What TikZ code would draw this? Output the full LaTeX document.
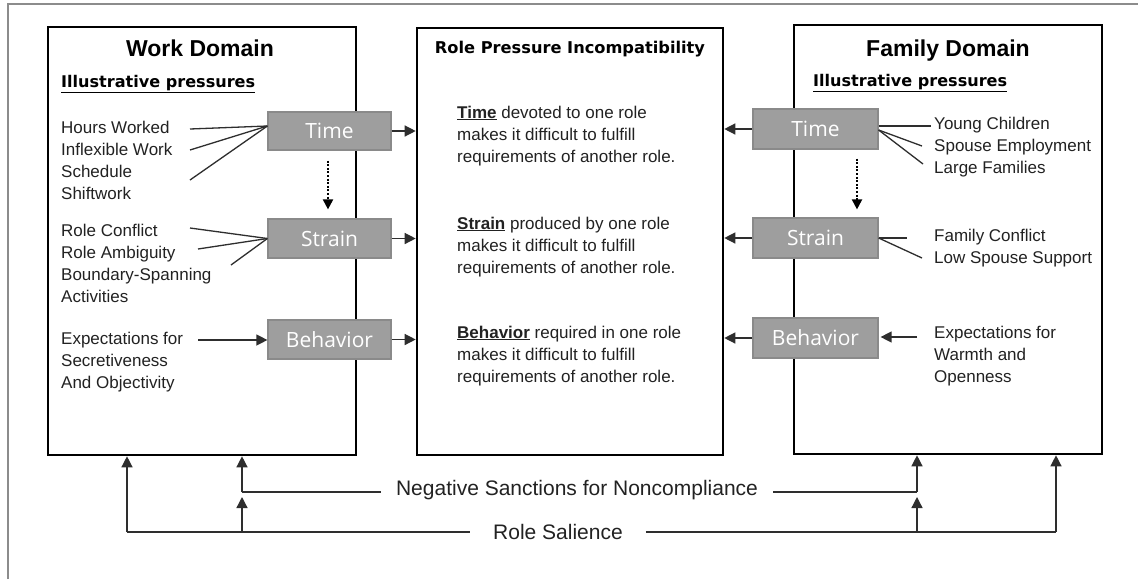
\documentclass[tikz,border=0pt]{standalone}
\usepackage{fontspec}
\setmainfont{Liberation Sans}
\newfontfamily\grayfont{Open Sans}
\newfontfamily\headfont{DejaVu Sans}
\usetikzlibrary{arrows.meta}
\definecolor{txt}{HTML}{222222}
\definecolor{boxgray}{HTML}{9E9E9E}
\definecolor{boxedge}{HTML}{8A8A8A}
\definecolor{lin}{HTML}{2E2E2E}
\definecolor{framec}{HTML}{8C8C8C}
\newcommand{\mystack}[1]{\begin{tabular}[t]{@{}l@{}}#1\end{tabular}}
\begin{document}
\begin{tikzpicture}[x=1pt,y=-1pt,
  domain/.style={draw=black,line width=2.6pt,minimum width=#1,inner sep=0pt},
  gbox/.style={fill=boxgray,draw=boxedge,line width=1.2pt,text=white,
    font=\grayfont\fontsize{21}{24}\selectfont,minimum width=123pt,minimum height=39pt,inner sep=0pt},
  lst/.style={anchor=base west,inner sep=0pt,text=txt,font=\fontsize{17}{22}\selectfont},
  conn/.style={draw=lin,line width=1.3pt},
  arr/.style={conn,-{Triangle[length=11pt,width=11pt]}},
  dotarr/.style={draw=black,line width=2pt,dash pattern=on 2pt off 1.6pt,-{Triangle[length=10pt,width=10pt]}},
  head/.style={inner sep=0pt,anchor=base,font=\bfseries\fontsize{23}{26}\selectfont,text=black},
  bot/.style={inner sep=0pt,anchor=base,font=\fontsize{21}{24}\selectfont,text=txt},
]
\useasboundingbox (0,0) rectangle (1138,579);
\fill[white] (0,0) rectangle (1138,579);
\draw[framec,line width=1.4pt] (8,579) -- (8,4) -- (1138,4);

% domain boxes
\node[domain=308pt,minimum height=428pt] (wbox) at (202,241) {};
\node[domain=306pt,minimum height=427pt] (cbox) at (570,241.5) {};
\node[domain=308pt,minimum height=429pt] (fbox) at (948,239.5) {};

% headings
\node[head] (wtitle) at (200,56) {Work Domain};
\node[head] (ftitle) at (948,56) {Family Domain};
\node[inner sep=0pt,anchor=base west,text=black] (wip) at (61,87)
  {\resizebox{194pt}{!}{\headfont\bfseries\underline{Illustrative pressures}}};
\node[inner sep=0pt,anchor=base west,text=black] (fip) at (813,86)
  {\resizebox{194pt}{!}{\headfont\bfseries\underline{Illustrative pressures}}};
\node[inner sep=0pt,anchor=base,text=black] (ctitle) at (570,53)
  {\resizebox{270pt}{!}{\headfont\bfseries Role Pressure Incompatibility}};

% gray boxes
\node[gbox,minimum height=38pt] (wtime) at (329.5,131) {Time};
\node[gbox] (wstrain) at (329.5,238.5) {Strain};
\node[gbox] (wbeh) at (329.5,339.5) {Behavior};
\node[gbox,minimum width=125pt,minimum height=40pt] (ftime) at (815.5,129) {Time};
\node[gbox,minimum width=125pt,minimum height=40pt] (fstrain) at (815.5,238) {Strain};
\node[gbox,minimum width=125pt,minimum height=40pt] (fbeh) at (815.5,338) {Behavior};

% lists
\node[lst] (wl1) at (61,133) {\mystack{Hours Worked\\Inflexible Work\\Schedule\\Shiftwork}};
\node[lst] (wl2) at (61,236) {\mystack{Role Conflict\\Role Ambiguity\\Boundary-Spanning\\Activities}};
\node[lst] (wl3) at (61,344) {\mystack{Expectations for\\Secretiveness\\And Objectivity}};
\node[lst] (fl1) at (934,129) {\mystack{Young Children\\Spouse Employment\\Large Families}};
\node[lst] (fl2) at (934,241) {\mystack{Family Conflict\\Low Spouse Support}};
\node[lst] (fl3) at (934,338) {\mystack{Expectations for\\Warmth and\\Openness}};

% center paragraphs
\node[lst] (cp1) at (457,118) {\mystack{\underline{\textbf{Time}} devoted to one role\\makes it difficult to fulfill\\requirements of another role.}};
\node[lst] (cp2) at (457,229) {\mystack{\underline{\textbf{Strain}} produced by one role\\makes it difficult to fulfill\\requirements of another role.}};
\node[lst] (cp3) at (457,338) {\mystack{\underline{\textbf{Behavior}} required in one role\\makes it difficult to fulfill\\requirements of another role.}};

% left connectors
\coordinate (a1) at (190,129);
\coordinate (a2) at (190,150);
\coordinate (a3) at (190,180);
\draw[conn] (a1) -- ([yshift=5pt]wtime.west);
\draw[conn] (a2) -- ([yshift=5pt]wtime.west);
\draw[conn] (a3) -- ([yshift=5pt]wtime.west);
\coordinate (s1) at (190,228);
\coordinate (s2) at (198,249);
\coordinate (s3) at (231,265);
\draw[conn] (s1) -- (wstrain.west);
\draw[conn] (s2) -- (wstrain.west);
\draw[conn] (s3) -- (wstrain.west);
\coordinate (e1) at (198,340);
\draw[arr] (e1) -- (e1 -| wbeh.west);

% right connectors
\coordinate (b1) at (931,126);
\coordinate (b2) at (922,146);
\coordinate (b3) at (923,164);
\draw[conn] (b1 -| ftime.east) -- (b1);
\draw[conn] ([yshift=-1pt]ftime.east) -- (b2);
\draw[conn] ([yshift=-1pt]ftime.east) -- (b3);
\coordinate (c1) at (907,238);
\coordinate (c2) at (922,258);
\draw[conn] (fstrain.east) -- (c1);
\draw[conn] (fstrain.east) -- (c2);
\coordinate (e2) at (917,337);
\draw[arr,shorten >=2pt] (e2) -- (e2 -| fbeh.east);

% to center box
\draw[arr] (wtime.east) -- (wtime.east -| cbox.west);
\draw[arr] (wstrain.east) -- (wstrain.east -| cbox.west);
\draw[arr] (wbeh.east) -- (wbeh.east -| cbox.west);
\draw[arr] (ftime.west) -- (ftime.west -| cbox.east);
\draw[arr] (fstrain.west) -- (fstrain.west -| cbox.east);
\draw[arr] (fbeh.west) -- (fbeh.west -| cbox.east);

% dotted
\draw[dotarr,shorten <=10pt,shorten >=9pt] ([xshift=-1.5pt]wtime.south) -- ([xshift=-1.5pt]wstrain.north);
\draw[dotarr,shorten <=9pt,shorten >=8pt] ([xshift=41.5pt]ftime.south) -- ([xshift=41.5pt]fstrain.north);

% bottom
\node[bot,inner xsep=15pt] (nsan) at (577,495) {Negative Sanctions for Noncompliance};
\node[bot,inner xsep=23pt] (rsal) at (558,539) {Role Salience};
\coordinate (rs1) at (127,532);
\coordinate (rs2) at (242,532);
\coordinate (rs3) at (917,532);
\coordinate (rs4) at (1056,532);
\coordinate (ns1) at (242,492);
\coordinate (ns2) at (917,492);
\draw[conn] (rs1) -- (rs1 -| rsal.west);
\draw[conn] (rs4 -| rsal.east) -- (rs4);
\draw[arr] (rs1) -- (rs1 |- wbox.south);
\draw[arr] (rs4) -- (rs4 |- fbox.south);
\draw[arr,shorten >=5pt] (rs2) -- (ns1);
\draw[arr,shorten >=5pt] (rs3) -- (ns2);
\draw[conn] (ns1 -| nsan.west) -- (ns1);
\draw[arr] (ns1) -- (ns1 |- wbox.south);
\draw[conn] (ns2 -| nsan.east) -- (ns2);
\draw[arr] (ns2) -- (ns2 |- fbox.south);
\end{tikzpicture}
\end{document}
